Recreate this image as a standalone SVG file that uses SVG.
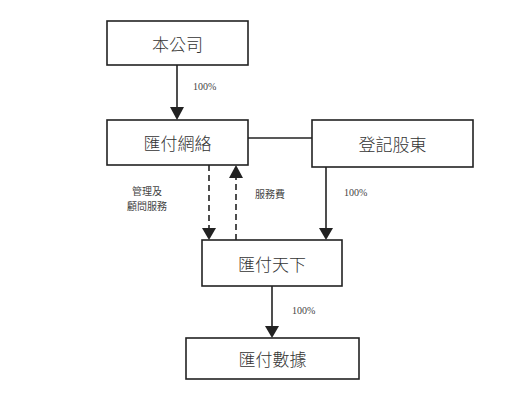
<svg xmlns="http://www.w3.org/2000/svg" width="530" height="408" viewBox="0 0 530 408">
<style>
.box{fill:#fff;stroke:#222;stroke-width:1.6}
.t{font-family:"Noto Sans CJK TC","Noto Sans CJK SC",sans-serif;font-size:17px;fill:#333;text-anchor:middle;dominant-baseline:central;font-weight:300}
.s{font-family:"Noto Sans CJK TC","Noto Sans CJK SC",sans-serif;font-size:10px;fill:#444;text-anchor:middle;dominant-baseline:central}
.p{font-family:"Liberation Serif",serif;font-size:10px;fill:#444;dominant-baseline:central}
.ln{stroke:#222;stroke-width:1.6;fill:none}
.dash{stroke-dasharray:6,4}
</style>
<rect width="530" height="408" fill="#fff"/>
<g id="connectors">
<line class="ln" x1="177" y1="65" x2="177" y2="108"/>
<path d="M170,107 L184,107 L177,120 Z" fill="#222"/>
<line class="ln" x1="248" y1="138" x2="312" y2="138"/>
<line class="ln dash" x1="209" y1="165" x2="209" y2="229"/>
<path d="M202,228 L216,228 L209,240 Z" fill="#222"/>
<line class="ln dash" x1="236" y1="240" x2="236" y2="177"/>
<path d="M229,178 L243,178 L236,165 Z" fill="#222"/>
<line class="ln" x1="326" y1="167" x2="326" y2="229"/>
<path d="M319,228 L333,228 L326,240 Z" fill="#222"/>
<line class="ln" x1="272" y1="286" x2="272" y2="327"/>
<path d="M265,326 L279,326 L272,338 Z" fill="#222"/>
<text class="p" x="193" y="86">100%</text>
<text class="s" x="147" y="190">管理及</text>
<text class="s" x="147" y="205.5">顧問服務</text>
<text class="s" x="270" y="193">服務費</text>
<text class="p" x="344" y="192">100%</text>
<text class="p" x="292" y="310">100%</text>
</g>
<g id="n1"><rect class="box" x="107" y="21" width="141" height="44"/><text class="t" x="177.5" y="43">本公司</text></g>
<g id="n2"><rect class="box" x="107" y="120" width="141" height="45"/><text class="t" x="177.5" y="142.5">匯付網絡</text></g>
<g id="n3"><rect class="box" x="312" y="120" width="161" height="47"/><text class="t" x="392.5" y="143.5">登記股東</text></g>
<g id="n4"><rect class="box" x="202" y="240" width="140" height="46"/><text class="t" x="272" y="263">匯付天下</text></g>
<g id="n5"><rect class="box" x="186" y="338" width="173" height="41"/><text class="t" x="272.5" y="358.5">匯付數據</text></g>
</svg>
